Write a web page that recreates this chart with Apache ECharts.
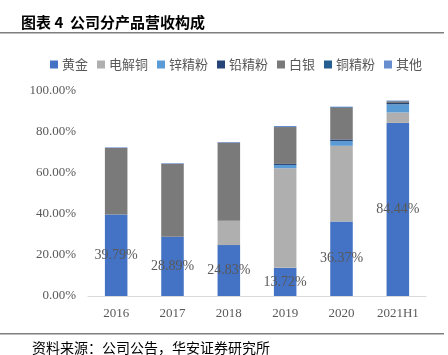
<!DOCTYPE html>
<html>
<head>
<meta charset="utf-8">
<script src="https://cdn.jsdelivr.net/npm/echarts@6/dist/echarts.min.js"></script>
<style>html,body{margin:0;padding:0;background:#fff;}#c{width:448px;height:355px;}</style>
</head>
<body>
<div id="c"></div>
<script>
var categories = ['2016', '2017', '2018', '2019', '2020', '2021H1'];
var seriesNames = ['黄金', '电解铜', '锌精粉', '铅精粉', '白银', '铜精粉', '其他'];
var gold = [39.79, 28.89, 24.83, 13.72, 36.37, 84.44];
var copper = [0, 0, 11.9, 48.6, 36.9, 5.1];
var zinc = [0, 0, 0, 1.6, 2.3, 4.0];
var lead = [0, 0, 0, 0.5, 0.8, 0.6];
var silver = [32.4, 35.6, 38.1, 18.0, 15.5, 0.8];
var copperConc = [0, 0, 0, 0, 0.3, 0.2];
var other = [0.3, 0.3, 0.3, 0.5, 0.2, 0.2];
var yTicks = [0, 20, 40, 60, 80, 100];

var colors = ['#4472C4', '#AFAFAF', '#5B9BD5', '#264478', '#7A7A7A', '#255E91', '#698ED0'];
var dataSets = [gold, copper, zinc, lead, silver, copperConc, other];
var serif = '"Liberation Serif", "Times New Roman", serif';
var cjk = '"Noto Sans CJK SC", sans-serif';

var series = seriesNames.map(function (name, i) {
  var s = {
    name: name,
    type: 'bar',
    stack: 'total',
    barWidth: '40%',
    data: dataSets[i],
    itemStyle: { color: colors[i] }
  };
  if (i === 0) {
    s.label = {
      show: true,
      position: 'inside',
      fontFamily: serif,
      fontSize: 14,
      color: '#595959',
      formatter: function (p) { return p.value.toFixed(2) + '%'; }
    };
  }
  return s;
});

var chart = echarts.init(document.getElementById('c'), null, { renderer: 'canvas' });
chart.setOption({
  animation: false,
  backgroundColor: '#fff',
  color: colors,
  title: {
    text: '图表 4  公司分产品营收构成',
    left: 16,
    top: 10,
    textStyle: { fontFamily: cjk, fontSize: 15, fontWeight: 'bold', color: '#000' }
  },
  legend: {
    data: seriesNames,
    left: 45,
    top: 53,
    itemWidth: 8,
    itemHeight: 8,
    itemGap: 9,
    icon: 'rect',
    textStyle: { fontFamily: cjk, fontSize: 13, color: '#595959', padding: [0, 0, 0, -1] }
  },
  grid: { left: 88, right: 22, top: 91, bottom: 59, containLabel: false },
  xAxis: {
    type: 'category',
    data: categories,
    axisLine: { lineStyle: { color: '#D9D9D9', width: 1 } },
    axisTick: { show: false },
    axisLabel: { fontFamily: serif, fontSize: 13, color: '#595959', margin: 11 }
  },
  yAxis: {
    type: 'value',
    min: yTicks[0],
    max: yTicks[yTicks.length - 1],
    interval: yTicks[1] - yTicks[0],
    axisLine: { show: false },
    axisTick: { show: false },
    splitLine: { show: false },
    axisLabel: {
      fontFamily: serif, fontSize: 13, color: '#595959', margin: 12,
      formatter: function (v) { return v.toFixed(2) + '%'; }
    }
  },
  graphic: [
    { type: 'rect', shape: { x: 0, y: 32, width: 444, height: 1.5 }, style: { fill: '#7F7F7F' } },
    { type: 'rect', shape: { x: 0, y: 333, width: 444, height: 1.5 }, style: { fill: '#7F7F7F' } },
    { type: 'text', left: 32, top: 341, style: { text: '资料来源：公司公告，华安证券研究所', fontFamily: cjk, fontSize: 14, fill: '#000' } }
  ],
  series: series
});
</script>
</body>
</html>
